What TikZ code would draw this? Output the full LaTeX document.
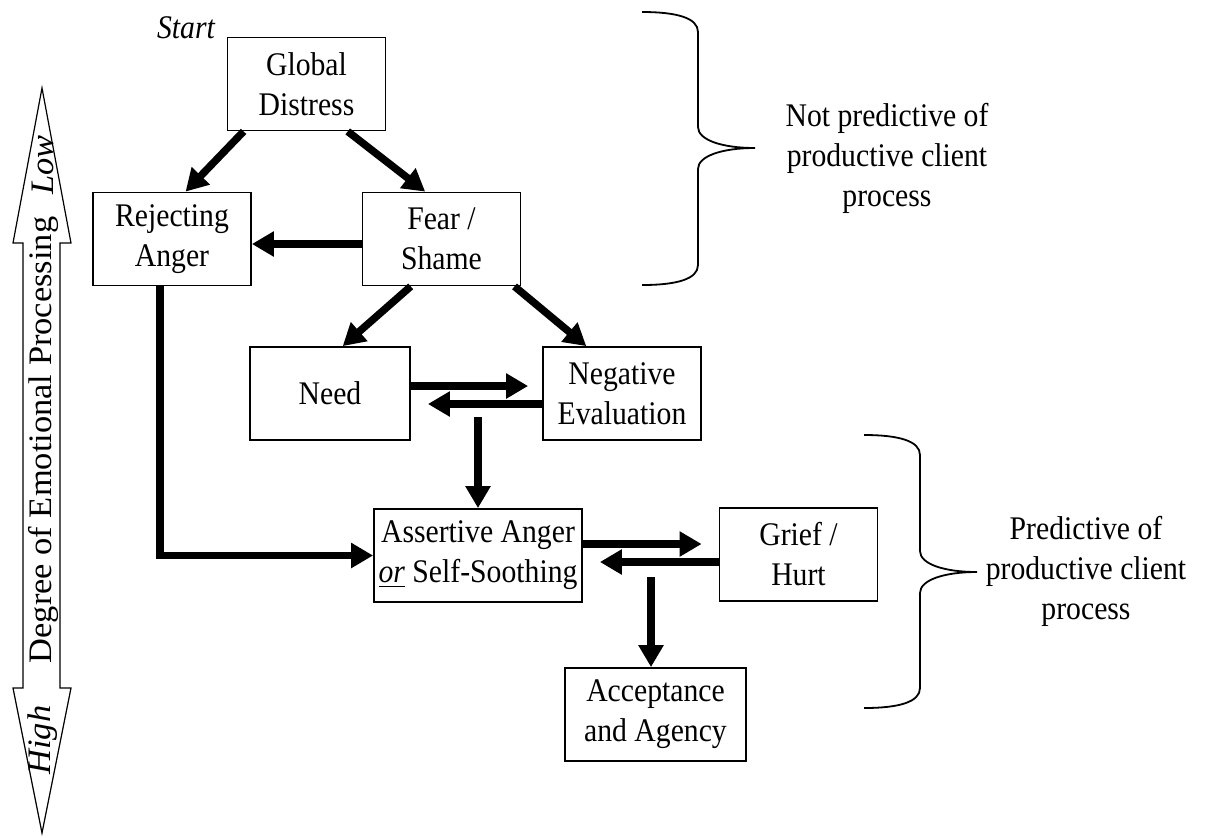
\documentclass[tikz,border=0pt]{standalone}
\usepackage{fontspec}
\setmainfont{Liberation Serif}[FakeStretch = 0.9]
\newfontfamily\axisfont{Liberation Serif}[FakeStretch = 1.05]
\usetikzlibrary{calc,arrows.meta}
\def\bracedepth{56}
\def\drawbrace#1#2#3#4{%
  \draw [brace line] (#1,#2) 
  .. controls ({#1+35},#2) and ({#1+\bracedepth},{#2+6}) .. ({#1+\bracedepth},{#2+20})
  -- ({#1+\bracedepth},{#3-21}) 
  .. controls ({#1+\bracedepth},{#3-8}) and ({#1+80},#3) .. ({#1+2*\bracedepth+1},#3)
  .. controls ({#1+80},#3) and ({#1+\bracedepth},{#3+8}) .. ({#1+\bracedepth},{#3+21})
  -- ({#1+\bracedepth},{#4-20}) 
  .. controls ({#1+\bracedepth},{#4-6}) and ({#1+35},#4) .. (#1,#4);
}

\begin{document}
\begin{tikzpicture}[x = 0.5pt, y = -0.5pt,
  emotion/.style = {draw, line width = 0.9pt, align = center, inner sep = 0pt,
    minimum width = 79pt, minimum height = 46.5pt, font = \fontsize{16.5}{20}\selectfont},
  flow/.style = {line width = 3.75pt, -{Triangle[length = 11pt, width = 12pt]}},
  brace line/.style = {line width = 0.9pt},
  side note/.style = {align = center, font = \fontsize{16.5}{20}\selectfont},
  axis label/.style = {rotate = 90, font = \axisfont\fontsize{16.4}{20}\selectfont},
  axis end/.style = {rotate = 90, font = \axisfont\fontsize{16.4}{20}\selectfont\itshape}]

  \useasboundingbox (0,0) rectangle (1210,837);

  \draw [line width = 0.6pt, line join = miter] 
    (42,88) -- (71,243) -- (60,243) -- (60,688) -- (71,688) -- (42,833) 
    -- (13,688) -- (23,688) -- (23,243) -- (13,243) -- cycle;
  \node [axis end] (low) at (43,165) {Low};
  \node [axis label] (degree) at (43,440) {Degree of Emotional Processing};
  \node [axis end] (high) at (43,740) {High};

  \node [font = \fontsize{16.5}{20}\selectfont\itshape] (start) at (186,28) {Start};

  \node [emotion] (global_distress) at (306.5,84) {Global\\Distress};
  \node [emotion] (rejecting_anger) at (172,239) {Rejecting\\Anger};
  \node [emotion] (fear_shame) at (441.5,239) {Fear /\\Shame};
  \node [emotion, minimum width = 80pt] (need) at (330,393.5) {Need};
  \node [emotion] (negative_evaluation) at (622,393.5) {Negative\\Evaluation};
  \node [emotion, minimum width = 104pt] (assertive_anger) at (478,555.5) 
    {Assertive Anger\\\underline{\textit{or}} Self-Soothing};
  \node [emotion] (grief_hurt) at (798.5,554.5) {Grief /\\Hurt};
  \node [emotion, minimum width = 90.5pt] (acceptance) at (655.5,714.5) {Acceptance\\and Agency};

  \coordinate (evaluation_out) at (478,417);
  \coordinate (grief_out) at (651,577);

  \draw [flow] (global_distress.217.7) to (rejecting_anger.74.5);
  \draw [flow] (global_distress.311.4) to (fear_shame.109.3);
  \draw [flow] ([yshift = -2.5pt]fear_shame.west) to ([yshift = -2.5pt]rejecting_anger.east);
  \draw [flow] ([xshift = -6pt]rejecting_anger.south) |- (assertive_anger.west);
  \draw [flow] (fear_shame.237.3) to (need.75.5);
  \draw [flow] (fear_shame.327.2) to (negative_evaluation.127);
  \draw [flow, shorten > = 7pt] ([yshift = 3.75pt]need.east) 
    to ([yshift = 3.75pt]need.east -| negative_evaluation.west);
  \draw [flow, shorten > = 8.5pt] ([yshift = -5.25pt]negative_evaluation.west) 
    to ([yshift = -5.25pt]negative_evaluation.west -| need.east);
  \draw [flow] (evaluation_out) to (evaluation_out |- assertive_anger.north);
  \draw [flow, shorten > = 8.5pt] ([yshift = 5.75pt]assertive_anger.east) 
    to ([yshift = 5.75pt]assertive_anger.east -| grief_hurt.west);
  \draw [flow, shorten > = 8.5pt] ([yshift = -3.75pt]grief_hurt.west) 
    to ([yshift = -3.75pt]grief_hurt.west -| assertive_anger.east);
  \draw [flow] (grief_out) to (grief_out |- acceptance.north);

  \drawbrace{642}{12}{148}{285}
  \drawbrace{864}{435}{572}{708}

  \node [side note] (not_predictive) at (887,158) {Not predictive of\\productive client\\process};
  \node [side note] (predictive) at (1086,571) {Predictive of\\productive client\\process};

\end{tikzpicture}
\end{document}
